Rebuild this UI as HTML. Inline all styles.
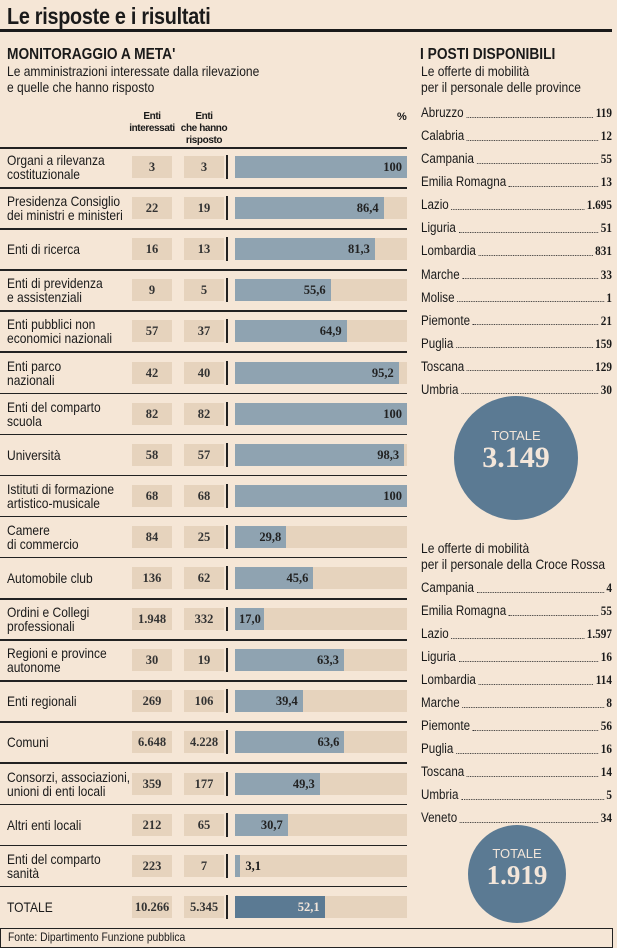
<!DOCTYPE html>
<html><head><meta charset="utf-8"><style>
*{margin:0;padding:0;box-sizing:border-box}
body{width:617px;height:946px;background:#f5e6d6;position:relative;overflow:hidden;font-family:"Liberation Sans",sans-serif;color:#1a1a1a}
.a{position:absolute;white-space:nowrap}
.n{transform:scaleX(.86);transform-origin:0 0}
.lbl{font-size:14px;line-height:14px;left:7px}
.cell{background:#e6d3bd;height:22px;font-family:"Liberation Serif",serif;font-weight:bold;font-size:12.5px;line-height:22px;text-align:center;color:#333}
.trk{left:235px;width:172px;height:22px;background:#e6d3bd}
.bar{left:235px;height:22px;background:#8fa3b1;font-family:"Liberation Serif",serif;font-weight:bold;font-size:12.5px;line-height:22px;text-align:right;padding-right:5px;color:#222}
.sep{left:0;width:407px;height:1.5px;background:#222}
.vl{left:226px;width:1.5px;height:24px;background:#222}
.it{left:421px;width:222px;font-size:13.5px;line-height:16px;display:flex;align-items:center;transform:scaleX(.86);transform-origin:0 0}
.it .d{flex:1;border-bottom:1px dotted #333;margin:0 3px;height:9px}
.it b{font-family:"Liberation Serif",serif;font-size:13px}
.circ{border-radius:50%;background:#5b7a93;color:#f3e6da;text-align:center}
</style></head><body>
<div class="a n" style="left:7px;top:3px;font-size:23px;font-weight:bold;letter-spacing:-0.3px">Le risposte e i risultati</div>
<div class="a" style="left:0;top:29px;width:612px;height:2.5px;background:#1a1a1a"></div>
<div class="a n" style="left:7px;top:46px;font-size:16px;font-weight:bold">MONITORAGGIO A META'</div>
<div class="a n" style="left:7px;top:63px;font-size:14px;line-height:16px">Le amministrazioni interessate dalla rilevazione<br>e quelle che hanno risposto</div>
<div class="a" style="left:126px;top:111px;width:52px;text-align:center;font-size:10px;line-height:12px;font-weight:bold;letter-spacing:-0.4px">Enti<br>interessati</div>
<div class="a" style="left:178px;top:111px;width:52px;text-align:center;font-size:10px;line-height:12px;font-weight:bold;letter-spacing:-0.4px">Enti<br>che hanno<br>risposto</div>
<div class="a" style="left:397px;top:111px;font-size:11px;font-weight:bold">%</div>
<div class="a sep" style="top:147px"></div>
<div class="a n" style="left:420px;top:46px;font-size:16px;font-weight:bold">I POSTI DISPONIBILI</div>
<div class="a n" style="left:421px;top:63px;font-size:14px;line-height:16px">Le offerte di mobilità<br>per il personale delle province</div>
<div class="a circ" style="left:454px;top:396px;width:124px;height:124px"><div class="a" style="left:0;width:124px;top:32px;font-size:13px">TOTALE</div><div class="a" style="left:0;width:124px;top:47px;font-family:'Liberation Serif',serif;font-size:30px;font-weight:bold;line-height:30px">3.149</div></div>
<div class="a n" style="left:421px;top:540px;font-size:14px;line-height:16px">Le offerte di mobilità<br>per il personale della Croce Rossa</div>
<div class="a circ" style="left:468px;top:825px;width:98px;height:98px"><div class="a" style="left:0;width:98px;top:21px;font-size:13px">TOTALE</div><div class="a" style="left:0;width:98px;top:36px;font-family:'Liberation Serif',serif;font-size:27px;font-weight:bold;line-height:28px">1.919</div></div>
<div class="a" style="left:0;top:928px;width:613px;height:20px;border:1.5px solid #222;font-size:12px;padding-left:7px;line-height:17px"><span style="display:inline-block" class="n">Fonte: Dipartimento Funzione pubblica</span></div>
<div id="c"></div>
<script>
var R=[["Organi a rilevanza<br>costituzionale","3","3",100,"100"],["Presidenza Consiglio<br>dei ministri e ministeri","22","19",86.4,"86,4"],["Enti di ricerca","16","13",81.3,"81,3"],["Enti di previdenza<br>e assistenziali","9","5",55.6,"55,6"],["Enti pubblici non<br>economici nazionali","57","37",64.9,"64,9"],["Enti parco<br>nazionali","42","40",95.2,"95,2"],["Enti del comparto<br>scuola","82","82",100,"100"],["Università","58","57",98.3,"98,3"],["Istituti di formazione<br>artistico-musicale","68","68",100,"100"],["Camere<br>di commercio","84","25",29.8,"29,8"],["Automobile club","136","62",45.6,"45,6"],["Ordini e Collegi<br>professionali","1.948","332",17,"17,0"],["Regioni e province<br>autonome","30","19",63.3,"63,3"],["Enti regionali","269","106",39.4,"39,4"],["Comuni","6.648","4.228",63.6,"63,6"],["Consorzi, associazioni,<br>unioni di enti locali","359","177",49.3,"49,3"],["Altri enti locali","212","65",30.7,"30,7"],["Enti del comparto<br>sanità","223","7",3.1,"3,1"],["TOTALE","10.266","5.345",52.1,"52,1"]];
var h="";
R.forEach(function(r,i){var c=167+i*41.1;var t=c-11;var two=r[0].indexOf("<br>")>=0;
h+='<div class="a lbl n" style="top:'+(two?c-14:c-7)+'px">'+r[0]+'</div>';
h+='<div class="a cell" style="left:132px;width:40px;top:'+t+'px">'+r[1]+'</div>';
h+='<div class="a cell" style="left:184px;width:40px;top:'+t+'px">'+r[2]+'</div>';
h+='<div class="a vl" style="top:'+(t-1)+'px"></div>';
h+='<div class="a trk" style="top:'+t+'px"></div>';
var w=r[3]*1.72,last=i==18;
if(r[3]<10){h+='<div class="a bar" style="width:'+w+'px;padding:0;top:'+t+'px"></div><div class="a" style="left:'+(240+w)+'px;top:'+t+'px;font-family:Liberation Serif,serif;font-weight:bold;font-size:12.5px;line-height:22px">'+r[4]+'</div>';}
else if(r[3]<20){h+='<div class="a bar" style="width:'+w+'px;text-align:left;padding-left:4px;top:'+t+'px">'+r[4]+'</div>';}
else h+='<div class="a bar" style="width:'+w+'px;top:'+t+'px;'+(last?'background:#5b7a93;color:#f3e6da':'')+'">'+r[4]+'</div>';
if(i<18)h+='<div class="a sep" style="top:'+(c+20)+'px"></div>';});
var P=[["Abruzzo","119"],["Calabria","12"],["Campania","55"],["Emilia Romagna","13"],["Lazio","1.695"],["Liguria","51"],["Lombardia","831"],["Marche","33"],["Molise","1"],["Piemonte","21"],["Puglia","159"],["Toscana","129"],["Umbria","30"]];
P.forEach(function(p,i){h+='<div class="a it" style="top:'+(105+i*23.08)+'px"><span>'+p[0]+'</span><span class="d"></span><b>'+p[1]+'</b></div>';});
var Q=[["Campania","4"],["Emilia Romagna","55"],["Lazio","1.597"],["Liguria","16"],["Lombardia","114"],["Marche","8"],["Piemonte","56"],["Puglia","16"],["Toscana","14"],["Umbria","5"],["Veneto","34"]];
Q.forEach(function(p,i){h+='<div class="a it" style="top:'+(580+i*23)+'px"><span>'+p[0]+'</span><span class="d"></span><b>'+p[1]+'</b></div>';});
document.getElementById("c").innerHTML=h;
</script>
</body></html>
